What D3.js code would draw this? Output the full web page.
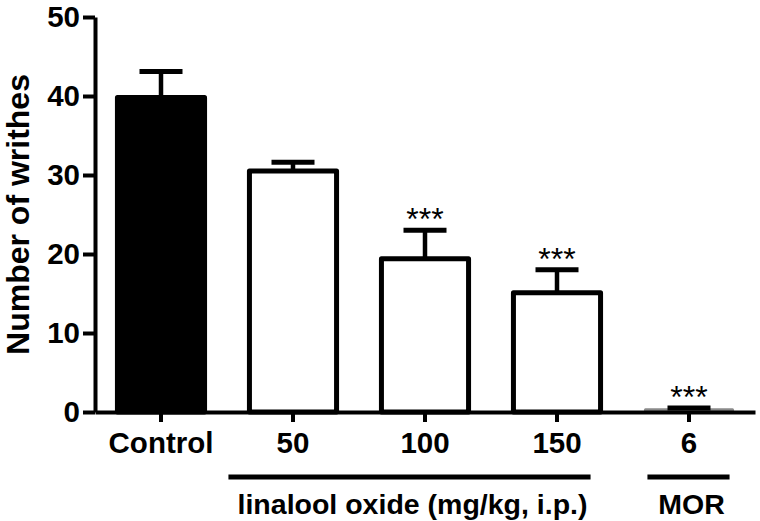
<!DOCTYPE html>
<html>
<head>
    <title>Number of writhes</title>
    <script src="https://d3js.org/d3.v7.min.js"></script>
    <style>
        body { margin: 0; background: #fff; }
        text { font-family: "Liberation Sans", Arial, sans-serif; }
    </style>
</head>
<body>
    <svg width="760" height="521"></svg>
    <script>
        // values
        const groups = ["Control", "50", "100", "150", "6"];
        const means = [39.8, 30.5, 19.4, 15.1, 0.3];
        const sems = [3.3, 1.1, 3.6, 2.9, 0.2];
        const stars = ["", "", "***", "***", "***"];
        const yTicks = [0, 10, 20, 30, 40, 50];
        const treatments = [
            { label: "linalool oxide (mg/kg, i.p.)", from: "50", to: "150" },
            { label: "MOR", from: "6", to: "6" }
        ];

        const fills = ["#000", "#fff", "#fff", "#fff", "#fff"];
        const strokes = ["#000", "#000", "#000", "#000", "#8a8a8a"];

        const svg = d3.select("svg");

        const x = d3.scaleBand()
                    .domain(groups)
                    .range([95, 755])
                    .paddingInner(0.34)
                    .paddingOuter(0.17);

        const y = d3.scaleLinear()
                    .domain([0, 50])
                    .range([412, 17]);

        const bw = x.bandwidth();

        // bars
        svg.selectAll(".bar")
           .data(groups)
           .enter().append("rect")
           .attr("class", "bar")
           .attr("x", d => x(d))
           .attr("y", (d, i) => y(means[i]))
           .attr("width", bw)
           .attr("height", (d, i) => y(0) - y(means[i]))
           .attr("fill", (d, i) => fills[i])
           .attr("stroke", (d, i) => strokes[i])
           .attr("stroke-width", (d, i) => i === 4 ? 3 : 5)
           .attr("stroke-linejoin", "round");

        // error bars (upper only)
        const err = svg.selectAll(".err")
           .data(groups)
           .enter().append("g")
           .attr("class", "err");

        err.append("line")
           .attr("x1", d => x(d) + bw / 2)
           .attr("x2", d => x(d) + bw / 2)
           .attr("y1", (d, i) => y(means[i]))
           .attr("y2", (d, i) => y(means[i] + sems[i]))
           .attr("stroke", "#000")
           .attr("stroke-width", 4.5);

        err.append("line")
           .attr("x1", d => x(d) + bw / 2 - 21.5)
           .attr("x2", d => x(d) + bw / 2 + 21.5)
           .attr("y1", (d, i) => y(means[i] + sems[i]))
           .attr("y2", (d, i) => y(means[i] + sems[i]))
           .attr("stroke", "#000")
           .attr("stroke-width", 5);

        // significance marks
        svg.selectAll(".star")
           .data(groups)
           .enter().append("text")
           .attr("class", "star")
           .attr("x", d => x(d) + bw / 2)
           .attr("y", (d, i) => y(means[i] + sems[i]))
           .attr("text-anchor", "middle")
           .style("font-size", "32px")
           .text((d, i) => stars[i]);

        // y axis
        const yAxis = svg.append("g")
           .attr("transform", "translate(95,0)")
           .call(d3.axisLeft(y).tickValues(yTicks).tickSize(12).tickSizeOuter(0).tickPadding(3));
        yAxis.selectAll("path, line").attr("stroke", "#000").attr("stroke-width", 4);
        yAxis.selectAll("text")
             .style("font-size", "29.5px")
             .style("font-weight", "bold")
             .attr("fill", "#000");

        // x axis
        const xAxis = svg.append("g")
           .attr("transform", "translate(0,412)")
           .call(d3.axisBottom(x).tickSize(10).tickSizeOuter(0).tickPadding(10));
        xAxis.selectAll("path, line").attr("stroke", "#000").attr("stroke-width", 4);
        xAxis.selectAll("text")
             .style("font-size", "29.5px")
             .style("font-weight", "bold")
             .attr("fill", "#000");

        // y title
        svg.append("text")
           .attr("transform", `translate(29,${(y(0) + y(50)) / 2}) rotate(-90)`)
           .attr("text-anchor", "middle")
           .style("font-size", "32px")
           .style("font-weight", "bold")
           .text("Number of writhes");

        // treatment brackets under the axis
        treatments.forEach(t => {
            const x0 = x(t.from) + (t.from === "6" ? 2 : -21);
            const x1 = x(t.to) + bw + (t.to === "6" ? -3 : -10);
            svg.append("line")
               .attr("x1", x0).attr("x2", x1)
               .attr("y1", 477).attr("y2", 477)
               .attr("stroke", "#000")
               .attr("stroke-width", 5);
            svg.append("text")
               .attr("x", (x0 + x1) / 2 + 3)
               .attr("y", 514)
               .attr("text-anchor", "middle")
               .style("font-size", "28.5px")
               .style("font-weight", "bold")
               .text(t.label);
        });
    </script>
</body>
</html>
